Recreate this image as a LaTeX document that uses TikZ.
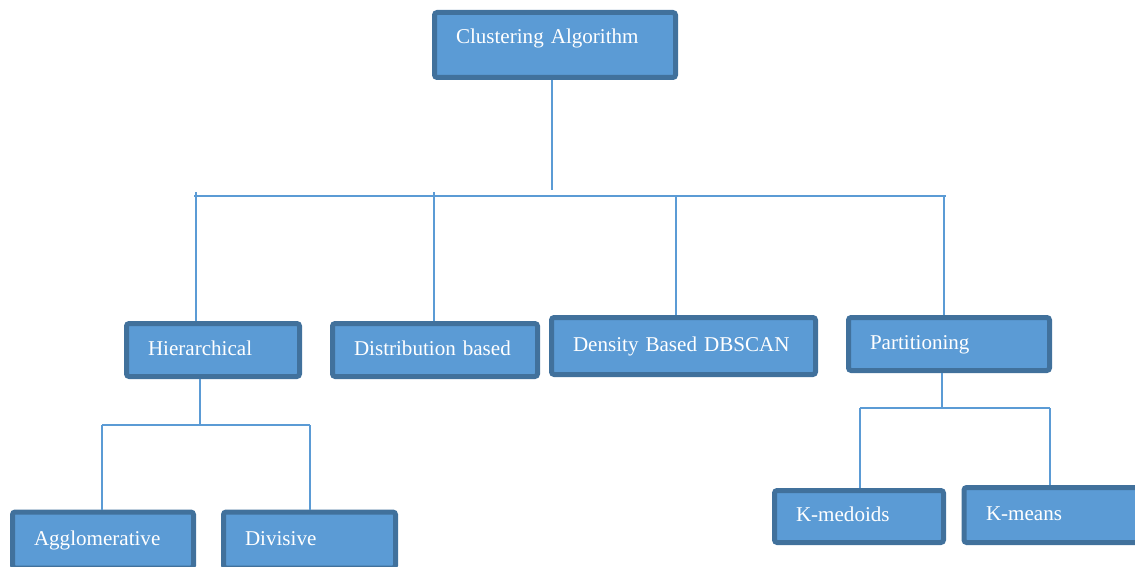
\documentclass[tikz,border=0pt]{standalone}
\usepackage{fontspec}
\setmainfont{Liberation Serif}
\definecolor{boxfill}{HTML}{5B9BD5}
\definecolor{boxline}{HTML}{41719C}
\definecolor{connc}{HTML}{5B9BD5}
\begin{document}
\begin{tikzpicture}[x=0.75pt,y=-0.75pt,
  box/.style={draw=boxline, fill=boxfill, line width=3.75pt, rounded corners=2pt,
    inner sep=0pt, align=left, text=white, font=\fontsize{15.8}{19}\selectfont,
    text height=11pt, text depth=3.5pt},
  conn/.style={draw=connc, line width=1.4pt}]
\useasboundingbox (0,0) rectangle (1135,567);
\clip (0,0) rectangle (1135,567);
% boxes
\node[box, minimum width=180.75pt, minimum height=48.75pt, text width=148.5pt, text depth=13pt] (top) at (555,45) {\mbox{Clustering Algorithm}};
\node[box, minimum width=129.75pt, minimum height=39.75pt, text width=97.5pt] (hier) at (213,350) {\mbox{Hierarchical}};
\node[box, minimum width=153.75pt, minimum height=39.75pt, text width=121.5pt] (dist) at (435,350) {\mbox{Distribution based}};
\node[box, minimum width=198pt, minimum height=42.75pt, text width=165.75pt] (dens) at (683.5,346) {\mbox{Density Based DBSCAN}};
\node[box, minimum width=150.75pt, minimum height=39.75pt, text width=118.5pt] (part) at (949,344) {\mbox{Partitioning}};
\node[box, minimum width=135.75pt, minimum height=42pt, text width=103.5pt] (aggl) at (103,540) {\mbox{Agglomerative}};
\node[box, minimum width=129pt, minimum height=42pt, text width=96.75pt] (div) at (309.5,540) {\mbox{Divisive}};
\node[box, minimum width=126.75pt, minimum height=39pt, text width=94.5pt] (kmed) at (859,516.5) {\mbox{K-medoids}};
\node[box, minimum width=142.5pt, minimum height=41.25pt, text width=109.5pt] (kmean) at (1059,515) {\mbox{K-means}};
% junction coordinates
\coordinate (stemEnd) at (552,190);
\coordinate (busL) at (194,196);
\coordinate (busR) at (946,196);
\coordinate (hTop) at (196,192);
\coordinate (dTop) at (434,192);
\coordinate (deTop) at (676,196);
\coordinate (pTop) at (944,196);
\coordinate (hBarL) at (102,425);
\coordinate (hBarR) at (310,425);
\coordinate (hJ) at (200,425);
\coordinate (pBarL) at (860,408);
\coordinate (pBarR) at (1050,408);
\coordinate (pJ) at (942,408);
% connectors
\draw[conn] (top.south -| stemEnd) -- (stemEnd);
\draw[conn] (busL) -- (busR);
\draw[conn] (hTop) -- (hTop |- hier.north);
\draw[conn] (dTop) -- (dTop |- dist.north);
\draw[conn] (deTop) -- (deTop |- dens.north);
\draw[conn] (pTop) -- (pTop |- part.north);
\draw[conn] (hJ |- hier.south) -- (hJ);
\draw[conn] (hBarL) -- (hBarR);
\draw[conn] (hBarL) -- (hBarL |- aggl.north);
\draw[conn] (hBarR) -- (hBarR |- div.north);
\draw[conn] (pJ |- part.south) -- (pJ);
\draw[conn] (pBarL) -- (pBarR);
\draw[conn] (pBarL) -- (pBarL |- kmed.north);
\draw[conn] (pBarR) -- (pBarR |- kmean.north);
\end{tikzpicture}
\end{document}
